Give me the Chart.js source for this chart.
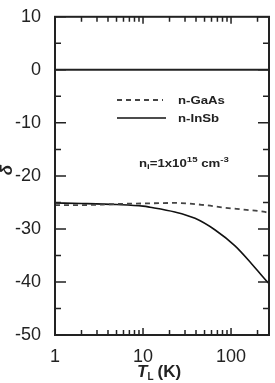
<!DOCTYPE html>
<html>
<head>
<meta charset="utf-8">
<script src="https://cdn.jsdelivr.net/npm/chart.js@4.4.1/dist/chart.umd.min.js"></script>
<style>
  html, body { margin: 0; padding: 0; background: #fff; }
  #wrap { width: 275px; height: 383px; position: relative; }
</style>
</head>
<body>
<div id="wrap"><canvas id="graph"></canvas></div>
<script>
// lattice temperature (K)
let t_gaas = [1, 2, 5, 10, 23, 50, 85, 150, 243, 270];
let delta_gaas = [-25.5, -25.5, -25.3, -25.2, -25.1, -25.5, -26.0, -26.4, -26.8, -27.0];

let t_insb = [1, 2, 5, 10, 12, 23, 39, 66, 111, 172, 243, 270];
let delta_insb = [-25.1, -25.2, -25.4, -25.7, -25.9, -26.8, -28.0, -30.2, -33.2, -36.6, -39.5, -40.3];

let y_ticks = [10, 0, -10, -20, -30, -40, -50];
let x_labels = [1, 10, 100];
let x_minor = [2, 3, 4, 5, 6, 7, 8, 9, 20, 30, 40, 50, 60, 70, 80, 90, 200];

const toPoints = (xs, ys) => xs.map((x, i) => ({ x: x, y: ys[i] }));

const FONT = "Liberation Sans, Arial, sans-serif";

// frame, inward ticks, legend and annotation
const decorations = {
  id: "decorations",
  afterDraw(chart) {
    const ctx = chart.ctx;
    const a = chart.chartArea;
    const xs = chart.scales.x;
    const ys = chart.scales.y;
    ctx.save();
    ctx.strokeStyle = "#222";
    ctx.lineWidth = 2;
    ctx.strokeRect(a.left, a.top, a.right - a.left, a.bottom - a.top);

    ctx.lineWidth = 1.5;
    ctx.beginPath();
    x_labels.forEach((v) => {
      const px = xs.getPixelForValue(v);
      ctx.moveTo(px, a.bottom); ctx.lineTo(px, a.bottom - 7);
      ctx.moveTo(px, a.top); ctx.lineTo(px, a.top + 7);
    });
    x_minor.forEach((v) => {
      const px = xs.getPixelForValue(v);
      ctx.moveTo(px, a.bottom); ctx.lineTo(px, a.bottom - 5);
      ctx.moveTo(px, a.top); ctx.lineTo(px, a.top + 5);
    });
    for (let v = -50; v <= 10; v += 5) {
      const py = ys.getPixelForValue(v);
      const len = v % 10 === 0 ? 11 : 6;
      ctx.moveTo(a.left, py); ctx.lineTo(a.left + len, py);
      ctx.moveTo(a.right, py); ctx.lineTo(a.right - len, py);
    }
    ctx.stroke();

    // legend
    ctx.fillStyle = "#222";
    ctx.lineWidth = 1.8;
    ctx.setLineDash([5, 4]);
    ctx.strokeStyle = "#444";
    ctx.beginPath(); ctx.moveTo(117, 100); ctx.lineTo(163, 100); ctx.stroke();
    ctx.setLineDash([]);
    ctx.strokeStyle = "#111";
    ctx.lineWidth = 1.6;
    ctx.beginPath(); ctx.moveTo(117, 118); ctx.lineTo(166, 118); ctx.stroke();

    // text in the figure is slightly wide, stretch horizontally
    const wide = (fn, x0) => {
      ctx.save();
      ctx.translate(x0, 0);
      ctx.scale(1.2, 1);
      fn();
      ctx.restore();
    };
    ctx.textBaseline = "middle";
    ctx.textAlign = "left";
    wide(() => {
      ctx.font = "bold 11px " + FONT;
      ctx.fillText("n-GaAs", 0, 101);
      ctx.fillText("n-InSb", 0, 119);
    }, 178);

    // n_i = 1x10^15 cm^-3
    wide(() => {
      let x = 0;
      const y = 164;
      const part = (txt, size, dy) => {
        ctx.font = "bold " + size + "px " + FONT;
        ctx.fillText(txt, x, y + dy);
        x += ctx.measureText(txt).width;
      };
      part("n", 11, 0);
      part("i", 8, 3);
      part("=1x10", 11, 0);
      part("15", 8, -4);
      part(" cm", 11, 0);
      part("-3", 8, -4);
    }, 139);

    // x title
    let x = 137;
    const ty = 372;
    ctx.font = "bold italic 17px " + FONT;
    ctx.fillText("T", x, ty);
    x += ctx.measureText("T").width;
    ctx.font = "bold 10px " + FONT;
    ctx.fillText("L", x, ty + 5);
    x += ctx.measureText("L").width + 4;
    ctx.font = "bold 17px " + FONT;
    ctx.fillText("(K)", x, ty);

    // y title
    ctx.translate(7, 170);
    ctx.rotate(-Math.PI / 2);
    ctx.font = "bold italic 17px " + FONT;
    ctx.textAlign = "center";
    ctx.fillText("δ", 0, 0);
    ctx.restore();
  },
};

const chartInit = () => {
  return new Chart(document.getElementById("graph").getContext("2d"), {
    type: "line",
    data: {
      datasets: [
        {
          label: "zero",
          data: toPoints([1, 270], [0, 0]),
          borderColor: "#222",
          borderWidth: 2,
        },
        {
          label: "n-GaAs",
          data: toPoints(t_gaas, delta_gaas),
          borderColor: "#444",
          borderDash: [5, 4],
          borderWidth: 1.8,
          cubicInterpolationMode: "monotone",
        },
        {
          label: "n-InSb",
          data: toPoints(t_insb, delta_insb),
          borderColor: "#111",
          borderWidth: 1.6,
          cubicInterpolationMode: "monotone",
        },
      ],
    },
    options: {
      animation: false,
      responsive: true,
      maintainAspectRatio: false,
      elements: { point: { radius: 0 } },
      layout: { padding: { top: 14, right: 6 } },
      plugins: { legend: { display: false }, tooltip: { enabled: false } },
      scales: {
        x: {
          type: "logarithmic",
          min: 1,
          max: 270,
          grid: { display: false },
          border: { display: false },
          afterBuildTicks: (scale) => {
            scale.ticks = x_labels.map((v) => ({ value: v }));
          },
          afterFit: (scale) => { scale.height = 48; },
          ticks: {
            color: "#222",
            font: { family: FONT, size: 18 },
            padding: 3,
            maxRotation: 0,
            autoSkip: false,
            callback: (v) => String(v),
          },
        },
        y: {
          min: -50,
          max: 10,
          grid: { display: false },
          border: { display: false },
          afterBuildTicks: (scale) => {
            scale.ticks = y_ticks.map((v) => ({ value: v }));
          },
          afterFit: (scale) => { scale.width = 55; },
          ticks: {
            color: "#222",
            font: { family: FONT, size: 18 },
            padding: 6,
          },
        },
      },
    },
    plugins: [decorations],
  });
};

Chart.defaults.font.family = FONT;
let deltaChart = chartInit();
</script>
</body>
</html>
